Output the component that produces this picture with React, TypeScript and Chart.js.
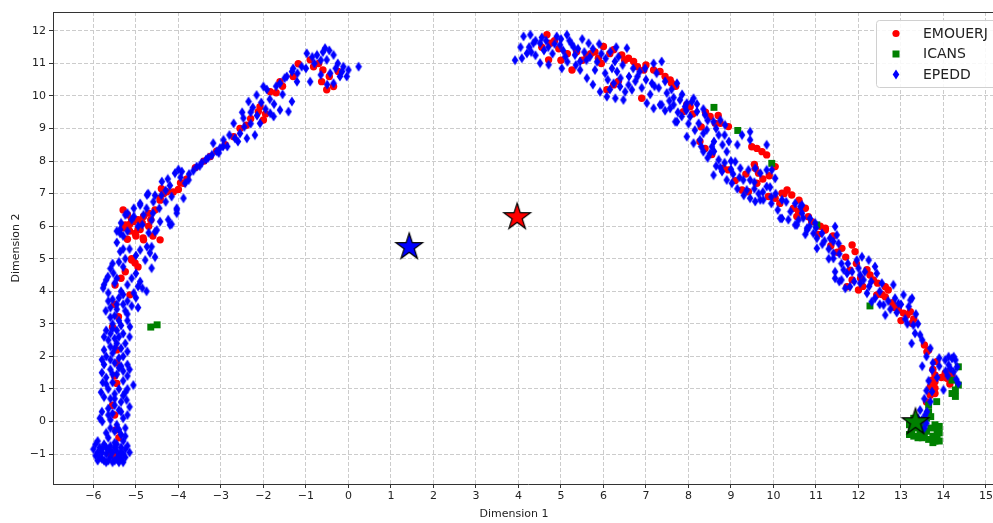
import React, { useEffect, useRef } from 'react';
import { Chart, registerables } from 'chart.js';
Chart.register(...registerables);

const X_TICKS = [-6, -5, -4, -3, -2, -1, 0, 1, 2, 3, 4, 5, 6, 7, 8, 9, 10, 11, 12, 13, 14, 15];
const Y_TICKS = [-1, 0, 1, 2, 3, 4, 5, 6, 7, 8, 9, 10, 11, 12];
const X_MIN = -6.95;
const X_MAX = 15.4;
const Y_MIN = -1.92;
const Y_MAX = 12.58;
const SERIES_NAMES = ['EMOUERJ', 'ICANS', 'EPEDD'];
const X_TITLE = 'Dimension 1';
const Y_TITLE = 'Dimension 2';

const EMOUERJ: number[][] = [
  [-5.47, -0.26], [-5.6, -1.0], [-5.5, 0.2], [-5.45, 1.17], [-5.5, 1.4], [-5.45, 2.2], [-5.41, 3.22],
  [-5.49, 4.19], [-5.14, 3.89], [-5.02, 4.87], [-5.1, 5.0], [-4.95, 4.75], [-4.83, 5.64], [-5.3, 6.5],
  [-5.1, 6.2], [-4.9, 5.9], [-4.7, 6.0], [-4.43, 5.58], [-5.2, 5.6], [-4.55, 6.5], [-4.43, 6.8],
  [-4.12, 7.05], [-3.95, 7.33], [-3.88, 7.32], [-4.0, 7.13], [-4.27, 7.06], [-4.43, 6.86], [-4.82, 6.3],
  [-5.06, 6.14], [-5.25, 6.04], [-5.02, 5.78], [-4.82, 5.58], [-5.1, 4.96], [-3.6, 7.8], [-3.25, 8.14],
  [-3.4, 8.0], [-2.9, 8.5], [-2.7, 8.75], [-2.55, 9.0], [-2.3, 9.3], [-2.0, 9.26], [-2.12, 9.52],
  [-2.08, 9.67], [-1.7, 10.1], [-1.84, 10.13], [-1.61, 10.44], [-1.18, 10.99], [-0.9, 11.11],
  [-0.82, 10.9], [-0.63, 10.44], [-0.51, 10.19], [-0.35, 10.29], [-0.24, 10.75],
  [-5.55, 0.5], [-5.4, -0.5], [-5.45, 1.8], [-5.35, 4.4], [-5.25, 4.6], [-5.0, 5.7], [-5.15, 5.85],
  [-4.95, 6.2], [-4.7, 6.4], [-4.6, 5.7], [-4.35, 7.0], [-3.8, 7.45], [-3.1, 8.3], [-2.4, 9.1],
  [-1.95, 9.45], [-1.55, 10.3], [-1.3, 10.6], [-0.7, 11.0], [-0.45, 10.6], [-0.6, 10.8],
  [-5.2, 6.35], [-5.15, 6.05], [-4.95, 5.9], [-4.85, 6.1], [-4.65, 6.2], [-5.3, 5.95], [-4.4, 7.15],
  [-5.5, -1.05], [-5.55, 2.9], [-5.5, 3.6],
  [4.67, 11.88], [4.75, 11.62], [4.71, 11.11], [5.26, 10.8], [5.37, 11.36], [5.61, 11.23], [5.7, 11.3],
  [5.88, 11.16], [6.0, 11.52], [6.24, 11.42], [6.43, 11.26], [6.59, 11.16], [6.71, 11.06], [6.08, 10.19],
  [6.24, 10.34], [6.9, 9.93], [7.18, 10.8], [7.33, 10.75], [7.57, 10.49], [7.88, 9.52], [8.04, 9.67],
  [7.96, 9.73], [8.51, 9.37], [8.63, 9.16], [8.75, 9.16], [8.94, 9.06], [8.27, 8.6], [8.39, 8.39],
  [8.82, 7.78], [8.94, 7.73], [9.49, 8.44], [9.61, 8.39], [9.73, 8.29], [9.84, 8.19], [10.04, 7.83],
  [9.57, 7.78], [9.65, 7.63], [9.61, 7.32], [9.26, 7.11], [9.41, 7.06], [9.88, 6.91], [10.04, 6.86],
  [10.32, 7.11], [10.43, 6.96], [10.47, 6.55], [11.22, 5.94], [10.2, 7.01], [10.59, 6.45], [10.82, 6.29],
  [10.9, 6.14], [11.22, 5.88], [11.61, 5.32], [11.85, 5.42], [11.92, 5.22], [11.85, 4.35], [11.73, 4.14],
  [12.0, 4.04], [12.2, 4.66], [12.27, 4.5], [12.35, 4.35], [12.63, 4.14], [12.7, 4.04], [12.43, 3.89],
  [12.63, 3.83], [12.94, 3.43], [13.06, 3.33], [13.14, 3.27], [13.22, 3.37], [13.26, 3.02], [13.61, 2.14],
  [13.65, 2.2], [13.84, 1.84], [13.8, 1.43], [13.73, 1.27], [13.8, 1.22], [13.69, 1.07], [13.8, 1.02],
  [14.04, 1.48], [14.12, 1.53], [14.2, 1.43], [14.08, 1.33], [13.69, 0.81], [13.8, 0.86],
  [4.55, 11.5], [4.95, 11.45], [5.15, 11.3], [5.5, 11.1], [5.8, 11.35], [6.15, 11.3], [6.5, 11.1],
  [6.35, 10.45], [6.95, 10.8], [7.45, 10.6], [7.7, 10.3], [8.1, 9.45], [8.3, 9.05], [8.55, 8.2],
  [9.1, 7.4], [9.35, 7.6], [9.75, 7.45], [10.15, 6.7], [10.6, 6.8], [10.75, 6.55], [11.05, 5.75],
  [11.35, 5.4], [11.7, 5.05], [11.95, 4.85], [12.1, 4.15], [12.55, 3.9], [12.8, 3.65], [13.3, 3.15],
  [13.55, 2.35], [13.75, 1.6], [13.95, 1.35], [14.15, 1.15], [13.6, 0.6],
  [9.55, 7.9], [9.9, 7.55], [10.25, 7.0], [10.55, 6.3], [11.1, 6.0], [11.4, 5.7], [11.5, 5.2],
  [11.8, 4.65], [12.05, 4.4], [12.45, 4.25], [12.85, 3.5], [13.0, 3.1], [8.4, 9.5], [8.7, 9.4],
  [7.6, 10.4], [7.0, 10.95], [6.8, 10.9], [5.0, 11.1], [4.85, 11.7], [5.95, 11.0],
];

const ICANS: number[][] = [
  [-4.65, 2.9], [-4.5, 2.97], [8.6, 9.65], [9.16, 8.94], [9.96, 7.93], [11.02, 6.04], [12.27, 3.55],
  [14.2, 1.27], [14.35, 1.68], [14.35, 1.12], [14.28, 0.97], [14.28, 0.77], [14.2, 0.86], [13.84, 0.61],
  [13.65, 0.51], [13.2, -0.1], [13.25, -0.3], [13.3, -0.45], [13.35, -0.2], [13.4, -0.5], [13.45, -0.35],
  [13.5, -0.15], [13.5, -0.5], [13.55, 0.05], [13.6, -0.3], [13.65, -0.55], [13.7, -0.2], [13.7, 0.15],
  [13.75, -0.45], [13.8, -0.6], [13.85, -0.3], [13.85, -0.5], [13.9, -0.15], [13.65, 0.3], [13.6, 0.1],
  [13.4, -0.05], [13.3, 0.1], [13.75, -0.65], [13.9, -0.6], [13.2, -0.4], [13.8, -0.1], [13.9, -0.35],
  [13.55, -0.45],
];

const EPEDD: number[][] = [
  [-6.0, -0.85], [-5.95, -1.05], [-5.9, -1.2], [-5.85, -0.8], [-5.8, -0.95], [-5.8, -1.15], [-5.75, -0.7],
  [-5.7, -1.0], [-5.7, -1.25], [-5.65, -0.85], [-5.6, -1.1], [-5.6, -0.75], [-5.55, -0.95], [-5.5, -1.2],
  [-5.5, -0.65], [-5.45, -0.9], [-5.4, -1.05], [-5.4, -1.25], [-5.35, -0.8], [-5.3, -1.0], [-5.3, -0.6],
  [-5.25, -0.45], [-5.9, -0.6], [-5.65, -0.5], [-5.2, -0.75], [-5.15, -0.95],
  [-5.95, -0.7], [-5.85, -1.1], [-5.75, -1.2], [-5.65, -1.2], [-5.55, -1.25], [-5.45, -1.15],
  [-5.35, -1.15], [-5.25, -1.1], [-5.5, -0.8], [-5.6, -0.9], [-5.7, -0.8], [-5.45, -0.7], [-5.35, -0.95],
  [-5.25, -0.85], [-5.8, -0.85], [-5.9, -0.95], [-5.3, -1.25],
  [-5.7, -0.35], [-5.5, -0.3], [-5.35, -0.4], [-5.79, 0.0], [-5.6, 0.05], [-5.45, -0.1], [-5.3, 0.1],
  [-5.2, 0.2], [-5.55, 0.25], [-5.65, 0.4], [-5.5, 0.5], [-5.4, 0.35], [-5.22, 0.66], [-5.6, 0.7],
  [-5.35, 0.6], [-5.5, 0.85], [-5.65, 1.0], [-5.4, 1.0], [-5.25, 0.9], [-5.06, 1.12], [-5.55, 1.2],
  [-5.3, 1.25], [-5.8, 1.5], [-5.7, 1.35], [-5.6, 1.6], [-5.45, 1.45], [-5.3, 1.55], [-5.2, 1.4],
  [-5.75, 1.75], [-5.5, 1.8], [-5.35, 1.7], [-5.7, 2.0], [-5.55, 2.1], [-5.4, 1.95], [-5.6, 2.3],
  [-5.45, 2.4], [-5.35, 2.25], [-5.65, 2.5], [-5.5, 2.55], [-5.6, 2.7], [-5.45, 2.8], [-5.3, 2.7],
  [-5.14, 2.91], [-5.55, 3.0], [-5.4, 3.1], [-5.5, 3.25], [-5.71, 3.4], [-5.6, 3.5], [-5.45, 3.45],
  [-5.3, 3.6], [-5.1, 3.55], [-4.95, 3.5], [-5.55, 3.75], [-5.4, 3.8], [-5.2, 3.7], [-5.0, 3.8],
  [-5.65, 3.95], [-5.35, 4.0], [-5.75, 4.2], [-5.77, 4.1], [-5.5, 4.25], [-5.2, 4.2], [-4.85, 4.1],
  [-4.75, 4.0], [-5.66, 4.45], [-5.53, 4.56], [-5.3, 4.75], [-5.1, 4.4], [-4.9, 4.3], [-5.0, 4.55],
  [-5.6, -0.2], [-5.4, -0.25], [-5.25, -0.2], [-5.65, 0.2], [-5.35, 0.3], [-5.5, 0.7], [-5.3, 0.8],
  [-5.7, 1.15], [-5.55, 1.45], [-5.4, 1.65], [-5.6, 1.9], [-5.3, 2.0], [-5.5, 2.25], [-5.4, 2.6],
  [-5.55, 2.85], [-5.35, 2.95], [-5.45, 3.6], [-5.25, 3.4], [-5.6, 3.2], [-5.3, 3.9], [-5.45, 4.4],
  [-5.6, 4.7], [-5.4, 4.9], [-5.25, 5.0], [-5.15, 5.3], [-5.45, 5.5],
  [-5.8, 0.3], [-5.75, 0.75], [-5.2, 1.0], [-5.78, 1.2], [-5.2, 1.75], [-5.75, 2.2], [-5.25, 2.4],
  [-5.7, 2.8], [-5.2, 3.1], [-5.65, 3.7],
  [-5.85, 0.1], [-5.15, 0.45], [-5.82, 0.9], [-5.15, 1.6], [-5.8, 1.9], [-5.2, 2.15], [-5.75, 2.6],
  [-5.15, 2.6], [-5.2, 3.3], [-5.05, 3.95], [-5.7, 4.35], [-4.95, 4.15], [-5.55, 4.85], [-5.3, 5.3],
  [-5.45, 5.85], [-5.35, 6.1], [-5.05, 6.55], [-4.75, 6.55], [-4.4, 6.95], [-4.25, 7.45], [-3.95, 7.5],
  [-4.78, 4.96], [-4.63, 4.71], [-4.67, 5.18], [-4.74, 5.37], [-4.63, 5.37], [-4.9, 5.27], [-5.37, 5.22],
  [-5.0, 5.1], [-4.55, 5.05], [-5.37, 5.9], [-5.3, 5.7], [-4.51, 5.88], [-4.7, 5.8], [-4.55, 5.83],
  [-5.37, 5.78], [-5.25, 6.35], [-5.2, 6.4], [-4.9, 6.65], [-4.82, 6.35], [-4.63, 6.19], [-4.43, 6.14],
  [-4.2, 6.04], [-4.24, 6.2], [-4.16, 6.06], [-4.04, 6.5], [-4.04, 6.4], [-5.1, 6.2], [-4.95, 6.0],
  [-5.2, 5.85], [-5.05, 6.3], [-4.85, 6.05], [-4.6, 6.4], [-4.45, 6.55], [-4.3, 6.75], [-4.55, 6.95],
  [-4.9, 6.7], [-4.74, 6.96], [-4.59, 6.75], [-4.71, 7.0], [-4.39, 7.37], [-4.3, 7.1], [-4.16, 6.91],
  [-4.04, 6.55], [-3.88, 6.86], [-4.08, 7.63], [-3.92, 7.68], [-3.84, 7.32], [-3.76, 7.42], [-4.0, 7.74],
  [-4.2, 7.25], [-3.75, 7.6], [-3.5, 7.85], [-3.3, 8.1], [-3.05, 8.25], [-2.85, 8.45], [-2.6, 8.6],
  [-3.65, 7.7], [-3.57, 7.83], [-3.45, 7.95], [-3.35, 8.05], [-3.21, 8.19], [-3.18, 8.55], [-3.02, 8.4],
  [-2.94, 8.65], [-3.1, 8.3], [-2.67, 8.7], [-2.7, 9.16], [-2.47, 9.32], [-2.39, 8.7], [-2.2, 8.8],
  [-2.8, 8.8], [-2.45, 9.05], [-2.3, 9.15], [-2.15, 9.4], [-1.95, 9.6], [-1.85, 9.9], [-1.7, 10.3],
  [-2.95, 8.45], [-2.55, 8.85], [-2.3, 9.5], [-2.05, 9.8], [-1.75, 9.75], [-1.55, 10.05], [-1.2, 10.7],
  [-2.08, 9.16], [-1.84, 9.47], [-1.76, 9.37], [-1.61, 9.57], [-1.41, 9.52], [-1.33, 9.83], [-2.35, 9.83],
  [-2.16, 10.03], [-2.0, 10.29], [-1.92, 10.2], [-2.5, 9.5], [-2.25, 9.65], [-1.61, 10.39], [-1.33, 10.75],
  [-1.21, 10.44], [-0.9, 10.44], [-0.98, 11.31], [-0.74, 11.26], [-0.55, 11.47], [-0.35, 11.26],
  [-0.51, 11.11], [-0.43, 10.7], [-0.35, 10.39], [-0.2, 10.6], [-0.12, 10.9], [-0.04, 10.6], [0.24, 10.9],
  [-0.6, 11.35], [-0.8, 11.0], [-0.25, 11.0], [-1.5, 10.55], [-1.1, 10.9],
  [-1.45, 10.6], [-1.3, 10.85], [-1.0, 10.85], [-0.85, 11.2], [-0.65, 11.1], [-0.45, 11.4], [-0.3, 10.85],
  [-0.15, 10.75], [0.0, 10.8], [-0.65, 10.65], [-0.5, 10.35],
  [3.92, 11.1], [4.08, 11.16], [4.12, 11.83], [4.28, 11.88], [4.2, 11.31], [4.35, 11.62], [4.51, 11.62],
  [4.51, 11.01], [4.71, 10.96], [4.9, 11.83], [4.98, 11.57], [5.14, 11.88], [5.2, 11.7], [5.02, 10.85],
  [5.1, 11.21], [5.33, 11.26], [5.45, 11.06], [5.45, 10.8], [5.65, 11.62], [5.68, 11.2], [5.8, 10.8],
  [5.61, 10.55], [5.9, 11.6], [6.16, 11.36], [6.27, 11.06], [6.55, 11.47], [6.04, 10.7], [6.32, 10.75],
  [6.24, 10.39], [6.39, 10.29], [6.51, 10.13], [6.59, 10.34], [5.92, 10.13], [6.08, 9.98], [6.28, 9.93],
  [6.47, 9.88], [6.67, 10.19], [6.98, 10.85], [7.18, 11.0], [7.37, 11.06], [7.14, 10.39], [7.49, 10.09],
  [7.73, 10.39], [7.02, 9.78], [7.18, 9.62], [7.33, 9.73], [7.57, 9.62], [7.69, 9.21], [7.84, 9.37],
  [7.96, 9.78], [8.08, 9.83], [4.6, 11.4], [4.8, 11.3], [5.3, 11.5], [5.55, 11.35], [4.4, 11.25],
  [4.25, 11.5], [4.4, 11.7], [4.55, 11.8], [4.7, 11.5], [4.85, 11.6], [5.0, 11.75], [5.05, 11.4],
  [5.25, 11.6], [5.4, 11.45], [5.5, 11.75], [5.6, 11.1], [5.75, 11.45], [5.95, 11.3], [6.05, 11.15],
  [6.1, 10.5], [6.2, 10.85], [6.35, 11.2], [6.45, 10.95], [6.6, 10.6], [6.7, 10.85], [6.4, 10.55],
  [6.15, 10.2], [5.75, 10.35], [6.75, 10.45], [6.85, 10.75], [7.0, 10.5], [7.1, 10.05], [7.25, 10.7],
  [7.3, 10.25], [7.45, 10.45], [7.6, 10.2], [7.65, 9.95], [7.85, 10.05], [7.95, 9.55], [8.2, 9.75],
  [4.05, 11.5], [4.3, 11.35], [4.65, 11.7], [5.15, 11.05], [5.35, 10.95], [5.85, 11.05], [6.3, 11.5],
  [6.8, 10.6], [6.9, 10.25], [7.2, 10.3], [7.55, 9.85], [7.75, 9.5], [8.0, 9.15], [8.15, 8.95],
  [7.37, 9.73], [7.45, 9.55], [7.65, 9.73], [7.73, 9.21], [7.8, 9.88], [7.92, 9.67], [8.12, 9.93],
  [8.04, 9.37], [8.2, 9.52], [8.24, 9.16], [8.39, 9.42], [8.43, 8.96], [8.59, 9.21], [8.75, 9.26],
  [8.86, 9.11], [7.96, 8.75], [8.12, 8.55], [8.27, 8.65], [8.35, 8.29], [8.51, 8.24], [8.55, 8.44],
  [8.71, 8.8], [8.9, 8.29], [8.71, 8.04], [8.59, 7.57], [8.79, 7.68], [8.9, 7.42], [9.02, 7.32],
  [9.1, 7.98], [9.22, 7.78], [9.26, 8.8], [9.45, 8.9], [9.45, 8.65], [9.29, 7.42], [9.45, 7.42],
  [9.37, 7.11], [9.41, 7.73], [9.57, 7.78], [9.69, 7.63], [9.84, 7.73], [9.84, 7.22], [9.76, 6.81],
  [9.57, 6.76], [9.45, 6.86], [9.84, 8.5], [9.69, 6.81], [9.96, 7.73], [10.04, 7.47], [9.92, 7.2],
  [10.16, 6.24], [10.55, 6.04], [10.67, 6.65], [10.79, 5.94], [10.86, 6.24], [10.98, 6.1], [11.45, 5.99],
  [8.35, 8.85], [8.6, 8.6], [9.0, 8.0], [9.15, 8.5], [8.8, 8.5],
  [8.3, 8.45], [8.6, 8.3], [8.75, 7.8], [9.0, 7.75], [9.2, 7.5], [9.55, 7.35], [9.75, 7.05],
  [9.95, 6.9], [10.1, 6.5], [10.35, 6.2], [10.75, 5.75], [11.15, 5.45], [11.3, 5.0], [11.6, 4.35],
  [11.9, 4.3], [12.25, 4.15], [12.5, 3.6], [12.9, 3.35], [13.15, 3.0], [13.25, 2.4], [13.5, 1.7],
  [13.9, 1.95], [14.1, 1.4],
  [8.35, 9.6], [8.45, 9.25], [8.65, 9.0], [8.85, 8.8], [8.95, 8.6], [8.45, 8.1], [8.65, 7.85],
  [8.85, 7.95], [9.05, 7.6], [9.15, 7.15], [9.3, 6.95], [9.55, 7.15], [9.65, 7.0], [9.95, 6.7],
  [10.05, 7.0], [10.3, 6.75], [10.4, 6.45], [10.7, 6.25], [10.85, 6.0], [11.0, 5.95], [11.2, 5.55],
  [11.3, 5.3], [11.55, 5.15], [11.6, 4.85], [11.75, 4.85], [11.55, 4.3], [11.85, 4.6], [12.15, 4.6],
  [12.3, 4.3], [12.5, 4.0], [12.7, 3.7], [12.75, 3.45], [13.0, 3.6], [13.1, 3.15], [13.35, 3.3],
  [13.4, 3.0], [13.5, 2.5], [13.6, 2.0],
  [10.2, 6.81], [10.2, 6.24], [10.51, 6.7], [10.63, 6.6], [10.67, 6.4], [10.59, 6.19], [10.51, 6.04],
  [10.79, 5.88], [10.94, 5.78], [11.02, 5.63], [11.02, 5.32], [11.14, 5.78], [11.33, 5.63], [11.41, 5.53],
  [11.49, 5.73], [11.53, 5.47], [11.41, 5.17], [11.41, 5.01], [11.45, 4.6], [11.45, 4.4], [11.65, 4.66],
  [11.73, 4.55], [11.69, 4.09], [11.8, 4.14], [11.96, 4.96], [12.08, 5.06], [12.24, 4.96], [12.0, 4.71],
  [12.04, 4.5], [12.12, 4.35], [12.04, 4.25], [12.2, 3.94], [12.39, 4.76], [12.43, 4.55], [12.39, 3.79],
  [12.31, 3.68], [12.55, 4.25], [12.59, 3.58], [12.63, 3.27], [12.82, 4.2], [12.86, 3.79], [12.94, 3.63],
  [13.06, 3.89], [13.18, 3.53], [13.22, 3.73], [13.26, 3.79], [13.29, 2.96], [13.33, 2.71], [13.45, 2.66],
  [13.69, 2.25], [14.12, 1.99], [14.24, 1.99], [13.73, 1.58], [14.04, 1.89], [14.2, 1.94], [14.28, 1.89],
  [14.12, 1.74], [14.32, 1.68], [14.16, 1.63], [14.24, 1.53], [14.35, 1.17], [14.0, 0.97], [13.73, 0.92],
  [13.69, 0.61], [13.61, 0.3], [13.57, 0.2], [13.5, 0.05], [13.55, -0.2],
  [13.75, 1.8], [13.9, 1.7], [14.05, 1.55], [14.3, 1.3], [13.85, 1.35], [13.65, 1.25], [13.6, 0.95],
  [13.55, 0.7], [13.45, 0.35], [13.4, 0.1], [13.6, -0.05],
];

// centroids (stars)
const STAR_EPEDD: number[][] = [[1.43, 5.39]];
const STAR_EMOUERJ: number[][] = [[3.97, 6.31]];
const STAR_ICANS: number[][] = [[13.34, 0.01]];

const RED = '#ff0000';
const GREEN = '#008000';
const BLUE = '#0000ff';
const FONT = '"DejaVu Sans", sans-serif';

function makeDiamond(color: string): HTMLCanvasElement {
  const c = document.createElement('canvas');
  c.width = 8;
  c.height = 11;
  const g = c.getContext('2d')!;
  g.fillStyle = color;
  g.beginPath();
  g.moveTo(4, 0.6);
  g.lineTo(7.3, 5.5);
  g.lineTo(4, 10.4);
  g.lineTo(0.7, 5.5);
  g.closePath();
  g.fill();
  return c;
}

function makeStar(color: string): HTMLCanvasElement {
  const c = document.createElement('canvas');
  const size = 34;
  c.width = size;
  c.height = size;
  const g = c.getContext('2d')!;
  const cx = size / 2;
  const cy = size / 2 + 1;
  const R = 14;
  const r = R * 0.382;
  g.beginPath();
  for (let i = 0; i < 10; i++) {
    const rad = i % 2 === 0 ? R : r;
    const a = -Math.PI / 2 + (i * Math.PI) / 5;
    const px = cx + rad * Math.cos(a);
    const py = cy + rad * Math.sin(a);
    if (i === 0) g.moveTo(px, py);
    else g.lineTo(px, py);
  }
  g.closePath();
  g.fillStyle = color;
  g.fill();
  g.lineWidth = 1.2;
  g.strokeStyle = '#000';
  g.lineJoin = 'miter';
  g.stroke();
  return c;
}

const toPts = (arr: number[][]) => arr.map(([x, y]) => ({ x, y }));
const fmt = (v: number | string) => String(v).replace('-', '\u2212');

export default function App() {
  const ref = useRef<HTMLCanvasElement | null>(null);

  useEffect(() => {
    document.body.style.margin = '0';
    const canvas = ref.current;
    if (!canvas) return;
    const diamond = makeDiamond(BLUE);
    const starB = makeStar(BLUE);
    const starR = makeStar(RED);
    const starG = makeStar(GREEN);

    const overlay = {
      id: 'overlay',
      afterDraw(chart: any) {
        const { ctx, chartArea: a } = chart;
        ctx.save();
        ctx.strokeStyle = '#333';
        ctx.lineWidth = 1;
        ctx.setLineDash([]);
        ctx.beginPath();
        ctx.moveTo(a.left, Math.round(a.top) + 0.5);
        ctx.lineTo(1010, Math.round(a.top) + 0.5);
        ctx.stroke();

        // axis titles
        ctx.fillStyle = '#222';
        ctx.font = `11px ${FONT}`;
        ctx.textAlign = 'center';
        ctx.textBaseline = 'middle';
        ctx.fillText(X_TITLE, 514, 514);
        ctx.save();
        ctx.translate(16, 248);
        ctx.rotate(-Math.PI / 2);
        ctx.fillText(Y_TITLE, 0, 0);
        ctx.restore();

        // legend
        const lx = 876.5, ly = 20.5, lw = 150, lh = 67;
        ctx.beginPath();
        (ctx as any).roundRect(lx, ly, lw, lh, 3);
        ctx.fillStyle = 'rgba(255,255,255,0.85)';
        ctx.fill();
        ctx.strokeStyle = '#d0d0d0';
        ctx.stroke();
        const rows = [33.5, 54, 74.5];
        ctx.fillStyle = RED;
        ctx.beginPath();
        ctx.arc(896, rows[0], 3.6, 0, Math.PI * 2);
        ctx.fill();
        ctx.fillStyle = GREEN;
        ctx.fillRect(892.5, rows[1] - 3.5, 7, 7);
        ctx.drawImage(diamond, 892, rows[2] - 5.5);
        ctx.fillStyle = '#222';
        ctx.font = `14px ${FONT}`;
        ctx.textAlign = 'left';
        ctx.textBaseline = 'middle';
        SERIES_NAMES.forEach((n, i) => ctx.fillText(n, 923, rows[i] + 0.5));
        ctx.restore();
      },
    };

    const zeroPad = (s: any) => {
      s.paddingTop = 0;
      s.paddingBottom = 0;
      s.paddingLeft = 0;
      s.paddingRight = 0;
    };

    const chart = new Chart(canvas, {
      type: 'scatter',
      data: {
        datasets: [
          { label: 'starEPEDD', data: toPts(STAR_EPEDD), pointStyle: starB as any, pointRadius: 14, order: 0 },
          { label: 'starEMOUERJ', data: toPts(STAR_EMOUERJ), pointStyle: starR as any, pointRadius: 14, order: 0 },
          { label: 'starICANS', data: toPts(STAR_ICANS), pointStyle: starG as any, pointRadius: 14, order: 0 },
          { label: SERIES_NAMES[2], data: toPts(EPEDD), pointStyle: diamond as any, pointRadius: 5, order: 1 },
          { label: SERIES_NAMES[1], data: toPts(ICANS), pointStyle: 'rect', pointRadius: 4.9, backgroundColor: GREEN, borderWidth: 0, order: 2 },
          { label: SERIES_NAMES[0], data: toPts(EMOUERJ), pointStyle: 'circle', pointRadius: 3.7, backgroundColor: RED, borderWidth: 0, order: 3 },
        ] as any,
      },
      options: {
        animation: false,
        responsive: false,
        maintainAspectRatio: false,
        devicePixelRatio: 1,
        layout: { autoPadding: false, padding: { top: 12, right: 7, left: 0, bottom: 0 } },
        plugins: { legend: { display: false }, tooltip: { enabled: false } },
        events: [],
        scales: {
          x: {
            type: 'linear',
            min: X_MIN,
            max: X_MAX,
            afterBuildTicks: (s: any) => { s.ticks = X_TICKS.map((v) => ({ value: v })); },
            afterFit: (s: any) => { s.height = 39; zeroPad(s); },
            ticks: {
              autoSkip: false,
              maxRotation: 0,
              padding: 2,
              color: '#222',
              font: { family: FONT, size: 11 },
              callback: (v: any) => fmt(v),
            },
            grid: { color: '#cccccc', lineWidth: 1, tickLength: 4, tickColor: '#333', drawTicks: true },
            border: { display: true, color: '#333', width: 1, dash: [4, 2] },
          },
          y: {
            type: 'linear',
            min: Y_MIN,
            max: Y_MAX,
            afterBuildTicks: (s: any) => { s.ticks = Y_TICKS.map((v) => ({ value: v })); },
            afterFit: (s: any) => { s.width = 53; zeroPad(s); },
            ticks: {
              autoSkip: false,
              padding: 3,
              color: '#222',
              font: { family: FONT, size: 11 },
              callback: (v: any) => fmt(v),
            },
            grid: { color: '#cccccc', lineWidth: 1, tickLength: 4, tickColor: '#333', drawTicks: true },
            border: { display: true, color: '#333', width: 1, dash: [4, 2] },
          },
        },
      } as any,
      plugins: [overlay],
    });
    return () => chart.destroy();
  }, []);

  return (
    <div style={{ width: 993, height: 523, overflow: 'hidden', position: 'relative' }}>
      <canvas ref={ref} width={1010} height={523} style={{ width: 1010, height: 523, display: 'block' }} />
    </div>
  );
}
